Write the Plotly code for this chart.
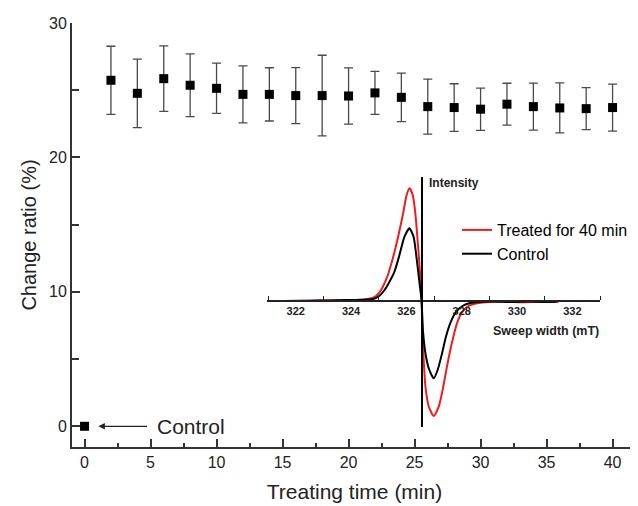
import plotly.graph_objects as go

# ---- main series ----
time_min = [2, 4, 6, 8, 10, 12, 14, 16, 18, 20, 22, 24, 26, 28, 30, 32, 34, 36, 38, 40]
change_ratio = [25.74, 24.77, 25.86, 25.37, 25.14, 24.69, 24.69, 24.60, 24.60, 24.57,
                24.80, 24.47, 23.78, 23.71, 23.59, 23.96, 23.78, 23.68, 23.63, 23.71]
change_err = [2.53, 2.55, 2.44, 2.33, 1.87, 2.12, 1.98, 2.08, 3.00, 2.09,
              1.60, 1.80, 2.04, 1.77, 1.57, 1.56, 1.75, 1.86, 1.56, 1.75]
control_time = [0]
control_value = [0]

# ---- inset EPR spectra ----
treated_field = [321.5, 322.5, 323.2, 323.8, 324.4, 324.8, 324.97, 325.15, 325.33, 325.51,
                 325.69, 325.87, 326.01, 326.11, 326.23, 326.33, 326.41, 326.50, 326.55,
                 326.57, 326.62, 326.69, 326.81, 326.99, 327.17, 327.31, 327.49, 327.67,
                 327.85, 328.03, 328.27, 328.57, 329.0, 329.6, 330.2, 330.8, 331.5]
treated_int = [0, 0.3, 0.5, 0.8, 1.3, 3.3, 6.7, 14.3, 26, 42.7,
               62.7, 86, 106, 112.7, 106, 86, 59.3, 26, 0,
               -22, -55.7, -85.7, -105.7, -115, -105.7, -89, -62.3, -39,
               -20.7, -10.7, -4.7, -2.3, -1, -0.8, -1.2, -0.7, -1]
control_field = [321.6, 322.5, 323.2, 323.8, 324.4, 324.79, 325.03, 325.21, 325.39, 325.57,
                 325.75, 325.93, 326.11, 326.26, 326.37, 326.47, 326.55, 326.6, 326.71,
                 326.83, 326.99, 327.13, 327.29, 327.43, 327.61, 327.80, 328.03, 328.27,
                 328.64, 329.2, 329.8, 330.4, 331.0, 331.4]
control_int = [0, 0.3, 0.6, 1, 1.3, 2, 5.3, 11, 19.3, 29.3,
               46, 64.3, 72.7, 64.3, 42.7, 19.3, 0, -30, -55.7,
               -69, -77.3, -69, -52.3, -35.7, -20.7, -10.7, -5, -2.3,
               -0.7, -0.5, -1, -0.6, -0.9, -0.7]

main_xticks = [0, 5, 10, 15, 20, 25, 30, 35, 40]
main_yticks = [0, 10, 20, 30]
inset_label_vals = [322, 324, 326, 328, 330, 332]
inset_tick_vals = [321, 323, 325, 327, 329, 331, 333]

FONT = "Liberation Sans, Arial, sans-serif"
OFF = 8  # page body margin
W, H = 638 - OFF, 506 - OFF
L, R, T, B = 72 - OFF, 1, 23 - OFF, 59
PW, PH = 565, 424  # plot area in pixels (ref x 72..637, y 23..447)


def px_x(p):
    return (p - 72) / PW


def px_y(p):
    return (447 - p) / PH


fig = go.Figure()

fig.add_trace(go.Scatter(
    x=time_min, y=change_ratio, mode="markers",
    marker=dict(symbol="square", size=9, color="black"),
    error_y=dict(type="data", array=change_err, visible=True,
                 color="#4a4a4a", thickness=1.3, width=4.5),
    showlegend=False, hoverinfo="x+y"))

fig.add_trace(go.Scatter(
    x=control_time, y=control_value, mode="markers",
    marker=dict(symbol="square", size=9, color="black"),
    showlegend=False))

fig.add_trace(go.Scatter(
    x=treated_field, y=treated_int, mode="lines", name="Treated for 40 min",
    line=dict(color="#ee1c1c", width=2, shape="spline", smoothing=0.6),
    xaxis="x2", yaxis="y2"))
fig.add_trace(go.Scatter(
    x=control_field, y=control_int, mode="lines", name="Control",
    line=dict(color="black", width=2, shape="spline", smoothing=0.6),
    xaxis="x2", yaxis="y2"))

axis_col = "#333333"
fig.update_layout(
    width=W, height=H,
    margin=dict(l=L, r=R, t=T, b=B, autoexpand=False),
    paper_bgcolor="white", plot_bgcolor="white",
    font=dict(family=FONT, color="#222222"),
    xaxis=dict(
        domain=[0, 1], range=[-0.95, 41.85],
        tickmode="array", tickvals=main_xticks,
        ticks="inside", ticklen=8, tickwidth=1.5, tickcolor=axis_col,
        minor=dict(tickmode="array", tickvals=[2.5, 7.5, 12.5, 17.5, 22.5, 27.5, 32.5, 37.5],
                   ticks="inside", ticklen=4, tickwidth=1.5, tickcolor=axis_col),
        showline=True, linecolor=axis_col, linewidth=2,
        showgrid=False, zeroline=False,
        tickfont=dict(size=16, color="#222222"),
        title=dict(text="Treating time (min)", font=dict(size=21, color="#222222"), standoff=14),
    ),
    yaxis=dict(
        domain=[0, 1], range=[-1.54, 30],
        tickmode="array", tickvals=main_yticks,
        ticks="inside", ticklen=8, tickwidth=1.5, tickcolor=axis_col,
        minor=dict(tickmode="array", tickvals=[5, 15, 25],
                   ticks="inside", ticklen=7, tickwidth=1.5, tickcolor=axis_col),
        showline=True, linecolor=axis_col, linewidth=2,
        showgrid=False, zeroline=False,
        tickfont=dict(size=16, color="#222222"),
        title=dict(text="Change ratio (%)", font=dict(size=20, color="#222222"), standoff=7),
    ),
    xaxis2=dict(
        domain=[px_x(266.7), px_x(600)], range=[320.95, 333.0],
        anchor="free", position=px_y(301),
        tickmode="array", tickvals=inset_label_vals,
        ticktext=["<b>%d</b>" % v for v in inset_label_vals],
        ticks="", showline=True, linecolor="#222222", linewidth=1.5,
        minor=dict(tickmode="array", tickvals=inset_tick_vals, ticks="inside",
                   ticklen=4, tickwidth=1.3, tickcolor="#222222"),
        showgrid=False, zeroline=False,
        tickfont=dict(size=11, color="#222222"),
    ),
    yaxis2=dict(
        domain=[px_y(427), px_y(177)], range=[-126, 124],
        anchor="free", position=px_x(422.3),
        showline=True, linecolor="black", linewidth=1.8,
        showticklabels=False, ticks="", showgrid=False, zeroline=False,
    ),
    legend=dict(
        x=px_x(457), y=px_y(213), xanchor="left", yanchor="top",
        bgcolor="rgba(0,0,0,0)", font=dict(size=16, color="black"),
        tracegroupgap=0,
    ),
    annotations=[
        dict(text="<b>Intensity</b>", x=px_x(427), y=px_y(183), xref="paper", yref="paper",
             xanchor="left", yanchor="middle", showarrow=False, font=dict(size=12, color="#222222")),
        dict(text="<b>Sweep width (mT)</b>", x=px_x(601), y=px_y(331), xref="paper", yref="paper",
             xanchor="right", yanchor="middle", showarrow=False, font=dict(size=12.5, color="#222222")),
        dict(text="Control", x=5.3, y=0, xref="x", yref="y", xanchor="left", yanchor="middle",
             showarrow=False, font=dict(size=21, color="#222222")),
        dict(text="", x=1.05, y=0, ax=4.85, ay=0, xref="x", yref="y", axref="x", ayref="y",
             showarrow=True, arrowhead=2, arrowsize=1, arrowwidth=1.3, arrowcolor="#222222"),
    ],
)

fig.write_html("out.html")
